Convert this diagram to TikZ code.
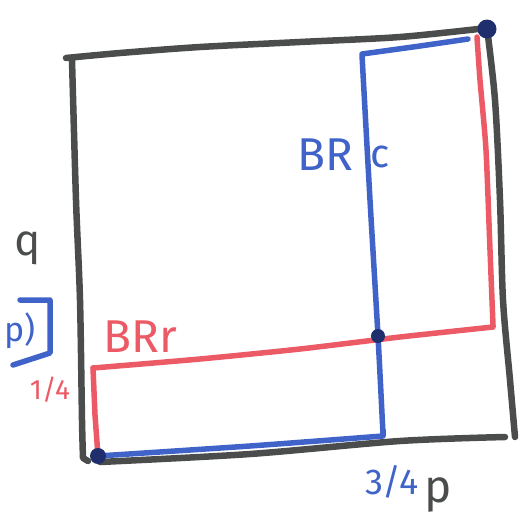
\documentclass[tikz,border=0pt]{standalone}
\usepackage{fontspec}
\setmainfont{Fira Sans}
\definecolor{penblack}{HTML}{4A4D4C}
\definecolor{penblue}{HTML}{3F63C9}
\definecolor{penred}{HTML}{EC5A66}
\definecolor{pennavy}{HTML}{1F2F6E}
\begin{document}
\begin{tikzpicture}[x=1pt,y=-1pt,line cap=round,line join=round,
  blk/.style={draw=penblack,line width=6.5pt},
  bluepen/.style={draw=penblue,line width=5.5pt},
  redpen/.style={draw=penred,line width=5.5pt},
  dot/.style={circle,fill=pennavy,inner sep=0pt,minimum size=#1},
  lbl/.style={inner sep=0pt,font=\fontsize{#1}{#1}\selectfont}]
\useasboundingbox (0,0) rectangle (528,523);
% corner points
\coordinate (TR) at (487,29);
\coordinate (BL) at (98,456);
\coordinate (MID) at (378,336);
% black square
\draw[blk] plot[smooth,tension=0.5] coordinates {(66,58) (120,53) (200,47) (300,42) (400,37) (487,28)};
\draw[blk] plot[smooth,tension=0.5] coordinates {(72,60) (76,200) (80,300) (82,420) (83,458)} -- (88,461);
\draw[blk] plot[smooth,tension=0.5] coordinates {(100,462) (250,454) (400,441) (505,437)};
\draw[blk] plot[smooth,tension=0.5] coordinates {(487,28) (495,100) (500,200) (503,300) (510,380) (515,437)};
% red path
\draw[redpen] (BL) -- (95,415) -- (93,368);
\draw[redpen] plot[smooth,tension=0.4] coordinates {(93,368) (200,359) (300,349) (400,337) (493,327)}
  -- plot[smooth,tension=0.4] coordinates {(493,325) (490,250) (486,150) (480,80) (477,37)};
% blue path
\draw[bluepen] plot[smooth,tension=0.4] coordinates {(BL) (250,446) (383,436)} -- (383,430);
\draw[bluepen] plot[smooth,tension=0.4] coordinates {(383,434) (MID) (370,200) (362,55)}
  -- plot[smooth,tension=0.4] coordinates {(362,54) (420,46) (468,39)};
% dots
\node[dot=19pt] at (TR) {};
\node[dot=16pt] at (BL) {};
\node[dot=14pt] at (MID) {};
% left bracket
\draw[bluepen] (20,300) -- (50,300) -- (50,353) -- (13,365);
% labels
\node[lbl=44,text=penblack] (q) at (28,248) {q};
\node[lbl=34,text=penblue] (p1) at (20,331) {p)};
\node[lbl=28,text=penred] (quarter) at (50,390) {1/4};
\node[lbl=46,text=penblue] (BR) at (325,155) {BR};
\node[lbl=40,text=penblue] (c) at (380,157) {c};
\node[lbl=46,text=penred] (BRr) at (140,337) {BRr};
\node[lbl=36,text=penblue] (tq) at (392,482) {3/4};
\node[lbl=46,text=penblack] (p2) at (438,495) {p};
\end{tikzpicture}
\end{document}
